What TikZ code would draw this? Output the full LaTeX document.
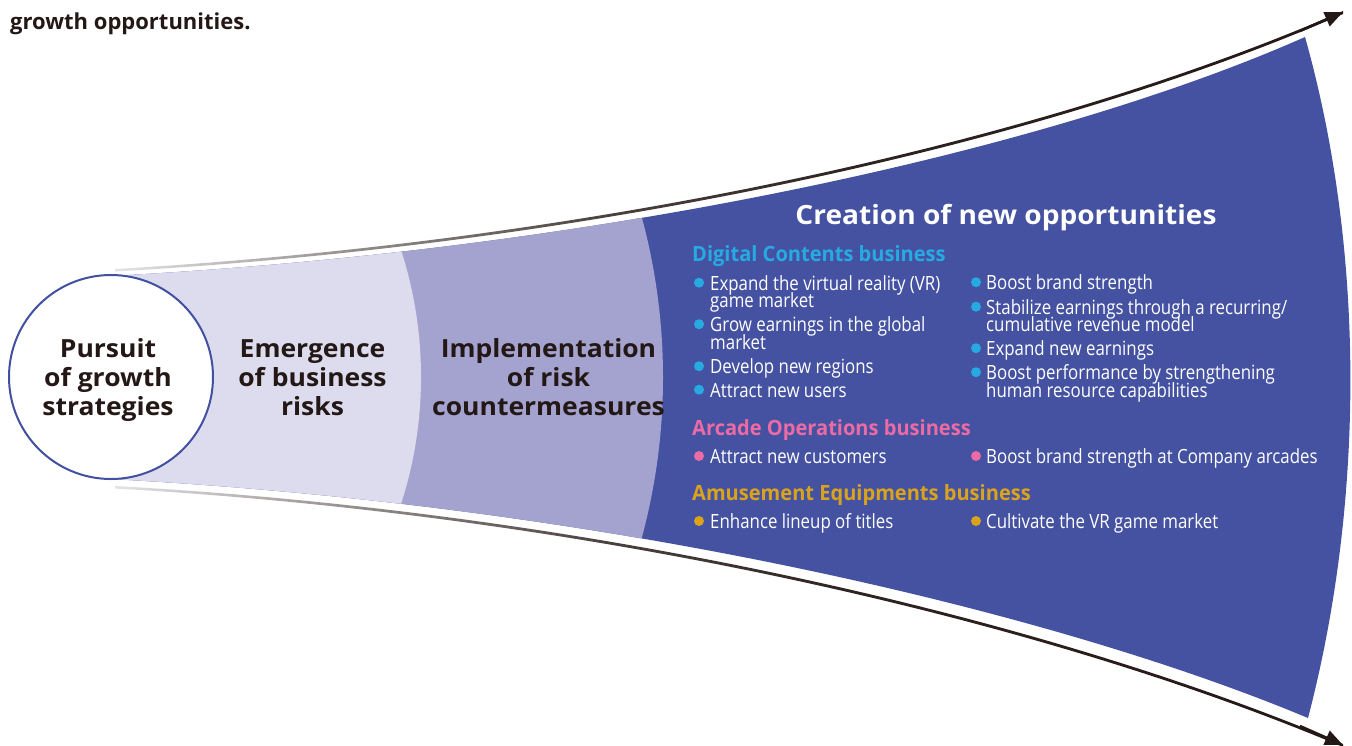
\documentclass[tikz,border=0pt]{standalone}
\usepackage{fontspec}
\setmainfont{Open Sans}
\newfontfamily\bodyfont[FakeStretch=0.86]{Open Sans}
\newfontfamily\headfont[FakeStretch=0.955]{Open Sans}
\newfontfamily\bigfont[FakeStretch=1.06]{Open Sans}
\usetikzlibrary{arrows.meta}
\definecolor{inkc}{HTML}{231815}
\definecolor{darkb}{HTML}{4552A1}
\definecolor{medb}{HTML}{A4A3D0}
\definecolor{lightb}{HTML}{DCDCEE}
\definecolor{ringc}{HTML}{4150A0}
\definecolor{cyanc}{HTML}{27AAE1}
\definecolor{pinkc}{HTML}{EC6BA4}
\definecolor{goldc}{HTML}{D9A31C}
\pgfdeclarehorizontalshading{arrowfade}{100bp}{color(0bp)=(inkc!12); color(25bp)=(inkc!12); color(35bp)=(inkc!50); color(45bp)=(inkc!82); color(55bp)=(inkc!95); color(75bp)=(inkc); color(100bp)=(inkc)}
\tikzset{
  big/.style={font=\bigfont\bfseries\fontsize{25}{30}\selectfont, text=inkc, inner sep=0, anchor=base},
  ttl/.style={font=\bigfont\bfseries\fontsize{26.5}{30}\selectfont, text=white, inner sep=0, anchor=base},
  bhead/.style={font=\headfont\bfseries\fontsize{21}{24}\selectfont, inner sep=0, anchor=base west},
  btxt/.style={font=\bodyfont\fontsize{19.6}{22}\selectfont, text=white, inner sep=0, anchor=base west},
  dot/.style={circle, inner sep=0, minimum size=10},
  tip/.style={line width=2.5, draw=inkc, -{Triangle[length=18,width=15]}},
}
\begin{document}
\begin{tikzpicture}[x=1pt, y=-1pt]
\useasboundingbox (0,0) rectangle (1352,745);
% funnel
\begin{scope}
\clip (111,276) .. controls (600,250) and (1050,150) .. (1305,37)
  .. controls (1365,250) and (1365,500) .. (1308,718)
  .. controls (1050,610) and (600,505) .. (111,479) -- cycle;
\fill[darkb] (0,0) rectangle (1352,745);
\fill[medb] (52,377.5) circle[radius=611];
\fill[lightb] (10,377) circle[radius=411];
\end{scope}
% arrow bands
\shade[shading=arrowfade] (115,269) .. controls (600,241) and (1050,139) .. (1343,11)
  -- (1343,14) .. controls (1050,142) and (600,244) .. (115,271.5) -- cycle;
\shade[shading=arrowfade] (115,486) .. controls (600,513) and (1050,620) .. (1343,744)
  -- (1343,747) .. controls (1050,623) and (600,516) .. (115,488.5) -- cycle;
\coordinate (ta) at (1300,31);
\coordinate (tb) at (1343,12);
\coordinate (ba) at (1300,726);
\coordinate (bb) at (1343,745);
\draw[tip] (ta) -- (tb);
\draw[tip] (ba) -- (bb);
% circle
\node[circle, draw=ringc, line width=2, fill=white, minimum size=204, inner sep=0] (ring) at (111,377) {};
% big labels
\node[big] (p1) at (108,357) {Pursuit};
\node[big] (p2) at (108,386) {of growth};
\node[big] (p3) at (108,415) {strategies};
\node[big] (e1) at (312.5,357) {Emergence};
\node[big] (e2) at (312.5,386) {of business};
\node[big] (e3) at (312.5,415) {risks};
\node[big] (i1) at (548.5,357) {Implementation};
\node[big] (i2) at (548.5,386) {of risk};
\node[big] (i3) at (548.5,415) {countermeasures};
\node[ttl] (ttl) at (1006,224) {Creation of new opportunities};
% top text
\node[font=\bfseries\fontsize{22}{26}\selectfont, text=inkc, inner sep=0, anchor=base west] (top) at (10,29) {growth opportunities.};
% Digital contents
\node[bhead, text=cyanc] (dch) at (692,261) {Digital Contents business};
\node[dot, fill=cyanc] (d1) at (699,282.7) {};
\node[btxt] (l1a) at (710,290) {Expand the virtual reality (VR)};
\node[btxt] (l1b) at (710,307.5) {game market};
\node[dot, fill=cyanc] (d2) at (699,324.2) {};
\node[btxt] (l2a) at (710,331.5) {Grow earnings in the global};
\node[btxt] (l2b) at (710,349) {market};
\node[dot, fill=cyanc] (d3) at (699,366.2) {};
\node[btxt] (l3) at (710,373.5) {Develop new regions};
\node[dot, fill=cyanc] (d4) at (699,389.7) {};
\node[btxt] (l4) at (710,397) {Attract new users};
\node[dot, fill=cyanc] (d5) at (976,282.2) {};
\node[btxt] (r1) at (986,289.5) {Boost brand strength};
\node[dot, fill=cyanc] (d6) at (976,306.7) {};
\node[btxt] (r2a) at (986,314) {Stabilize earnings through a recurring/};
\node[btxt] (r2b) at (986,331.5) {cumulative revenue model};
\node[dot, fill=cyanc] (d7) at (976,348.2) {};
\node[btxt] (r3) at (986,355.5) {Expand new earnings};
\node[dot, fill=cyanc] (d8) at (976,372.2) {};
\node[btxt] (r4a) at (986,379.5) {Boost performance by strengthening};
\node[btxt] (r4b) at (986,397.5) {human resource capabilities};
% Arcade
\node[bhead, text=pinkc] (aoh) at (692,435) {Arcade Operations business};
\node[dot, fill=pinkc] (d9) at (699,456) {};
\node[btxt] (a1) at (710,463.3) {Attract new customers};
\node[dot, fill=pinkc] (d10) at (976,456) {};
\node[btxt] (a2) at (986,463.3) {Boost brand strength at Company arcades};
% Amusement
\node[bhead, text=goldc] (aeh) at (692,500) {Amusement Equipments business};
\node[dot, fill=goldc] (d11) at (699,521) {};
\node[btxt] (m1) at (710,528.3) {Enhance lineup of titles};
\node[dot, fill=goldc] (d12) at (976,521) {};
\node[btxt] (m2) at (986,528.3) {Cultivate the VR game market};
\end{tikzpicture}
\end{document}
